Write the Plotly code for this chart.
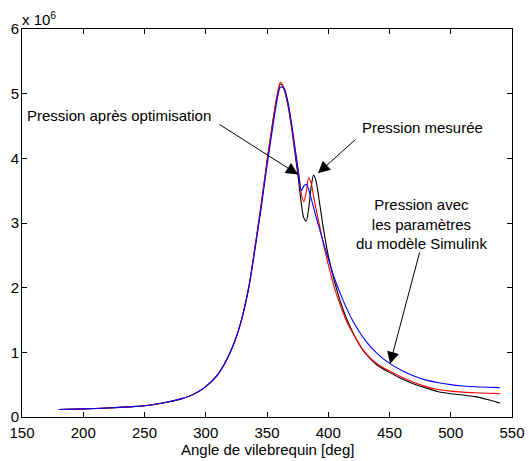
import plotly.graph_objects as go

# Crank angle [deg]
angle = [180, 200, 220, 240, 250, 260, 270, 280, 290, 300,
         310, 320, 328, 335, 340, 345, 350, 355, 358, 361,
         364, 367, 370, 373, 376, 378, 380, 382, 384, 386,
         388, 390, 393, 396, 400, 405, 410, 415, 420, 425,
         430, 440, 450, 460, 470, 480, 490, 500, 510, 520,
         530, 540]

# Pressure values in units of 10^6 Pa
p_mesuree = [0.115, 0.125, 0.14, 0.16, 0.175, 0.20, 0.235, 0.28, 0.35, 0.47,
             0.66, 1.00, 1.42, 2.00, 2.60, 3.25, 3.95, 4.60, 4.93, 5.15,
             5.06, 4.83, 4.48, 4.06, 3.62, 3.30, 3.08, 3.03, 3.22, 3.55,
             3.74, 3.65, 3.30, 2.92, 2.50, 2.10, 1.78, 1.52, 1.31, 1.13,
             0.99, 0.80, 0.69, 0.59, 0.51, 0.45, 0.39, 0.36, 0.34, 0.315,
             0.27, 0.215]

p_optim = [0.115, 0.125, 0.14, 0.16, 0.175, 0.20, 0.235, 0.28, 0.35, 0.47,
           0.66, 1.00, 1.42, 2.00, 2.60, 3.25, 3.95, 4.60, 4.95, 5.18,
           5.08, 4.85, 4.50, 4.10, 3.72, 3.45, 3.33, 3.48, 3.70, 3.62,
           3.42, 3.22, 2.95, 2.68, 2.36, 2.00, 1.72, 1.48, 1.30, 1.14,
           1.00, 0.82, 0.71, 0.615, 0.535, 0.47, 0.425, 0.40, 0.385, 0.375,
           0.368, 0.362]

p_simulink = [0.115, 0.125, 0.14, 0.16, 0.175, 0.20, 0.235, 0.28, 0.35, 0.47,
              0.66, 1.00, 1.42, 1.98, 2.57, 3.20, 3.88, 4.52, 4.88, 5.10,
              5.08, 4.88, 4.55, 4.15, 3.75, 3.50, 3.57, 3.60, 3.52, 3.38,
              3.24, 3.10, 2.90, 2.70, 2.45, 2.15, 1.90, 1.68, 1.49, 1.33,
              1.19, 0.98, 0.83, 0.72, 0.635, 0.57, 0.53, 0.50, 0.48, 0.467,
              0.46, 0.455]

x_ticks = [150, 200, 250, 300, 350, 400, 450, 500, 550]
y_ticks = [0, 1, 2, 3, 4, 5, 6]
y_ticktext = ["0", "1", "2", "3", "4", "5", "6"]

FONT = "Liberation Sans, Arial, Helvetica, sans-serif"
FS = 15

fig = go.Figure()
for vals, col in [(p_mesuree, "#000000"), (p_optim, "#ff0000"), (p_simulink, "#0000ff")]:
    fig.add_trace(go.Scatter(x=angle, y=vals, mode="lines",
                             line=dict(color=col, width=1.1, shape="spline", smoothing=0.8),
                             showlegend=False, hoverinfo="skip"))

W, H = 529, 461
ml, mr, mt, mb = 22, 17, 29, 44
pw, ph = W - ml - mr, H - mt - mb

def px2paper(wx, wy):
    return (wx - ml) / pw, (H - mb - wy) / ph

axis_common = dict(showgrid=False, zeroline=False, showline=True, linecolor="black",
                   linewidth=1, mirror="allticks", ticks="inside", ticklen=5,
                   tickcolor="black", tickwidth=1, automargin=False,
                   tickfont=dict(family=FONT, size=FS, color="black"))

fig.update_layout(
    width=W, height=H,
    margin=dict(l=ml, r=mr, t=mt, b=mb),
    paper_bgcolor="white", plot_bgcolor="white",
    font=dict(family=FONT, size=FS, color="black"),
    xaxis=dict(range=[150, 550], tickvals=x_ticks, ticklabelstandoff=2, **axis_common),
    yaxis=dict(range=[0, 6], tickvals=y_ticks, ticktext=y_ticktext, ticklabelstandoff=-1, **axis_common),
)

# x-axis title
tx, ty = px2paper(267, 449)
fig.add_annotation(text="Angle de vilebrequin [deg]", xref="paper", yref="paper",
                   x=tx, y=ty, showarrow=False, xanchor="center", yanchor="middle",
                   font=dict(family=FONT, size=FS, color="black"))

# exponent label
ex, ey = px2paper(20, 30)
fig.add_annotation(text="x 10<sup>6</sup>", xref="paper", yref="paper",
                   x=ex, y=ey, showarrow=False, xanchor="left", yanchor="bottom",
                   font=dict(family=FONT, size=FS, color="black"))

# text labels
lx, ly = px2paper(213, 116)
fig.add_annotation(text="Pression après optimisation", xref="paper", yref="paper",
                   x=lx, y=ly, showarrow=False, xanchor="right", yanchor="middle")
lx, ly = px2paper(360, 127)
fig.add_annotation(text="Pression mesurée", xref="paper", yref="paper",
                   x=lx, y=ly, showarrow=False, xanchor="left", yanchor="middle")
lx, ly = px2paper(421, 224)
fig.add_annotation(text="Pression avec<br>les paramètres<br>du modèle Simulink", xref="paper", yref="paper",
                   x=lx, y=ly, showarrow=False, xanchor="center", yanchor="middle", align="center")

# arrows (tip in data coords, tail offset in pixels)
arrow_style = dict(showarrow=True, text="", arrowhead=2, arrowsize=2.4, arrowwidth=1,
                   arrowcolor="black", xref="x", yref="y")
fig.add_annotation(x=375.3, y=3.75, ax=-80, ay=-51, **arrow_style)
fig.add_annotation(x=391.6, y=3.77, ax=39, ay=-35, **arrow_style)
fig.add_annotation(x=450.4, y=0.82, ax=30, ay=-113, **arrow_style)

fig.write_html(
    "out.html",
    config={"displayModeBar": False},
    post_script=("document.body.style.margin='0';"
                 "document.body.style.overflow='hidden';"
                 "document.documentElement.style.overflow='hidden';"),
)
